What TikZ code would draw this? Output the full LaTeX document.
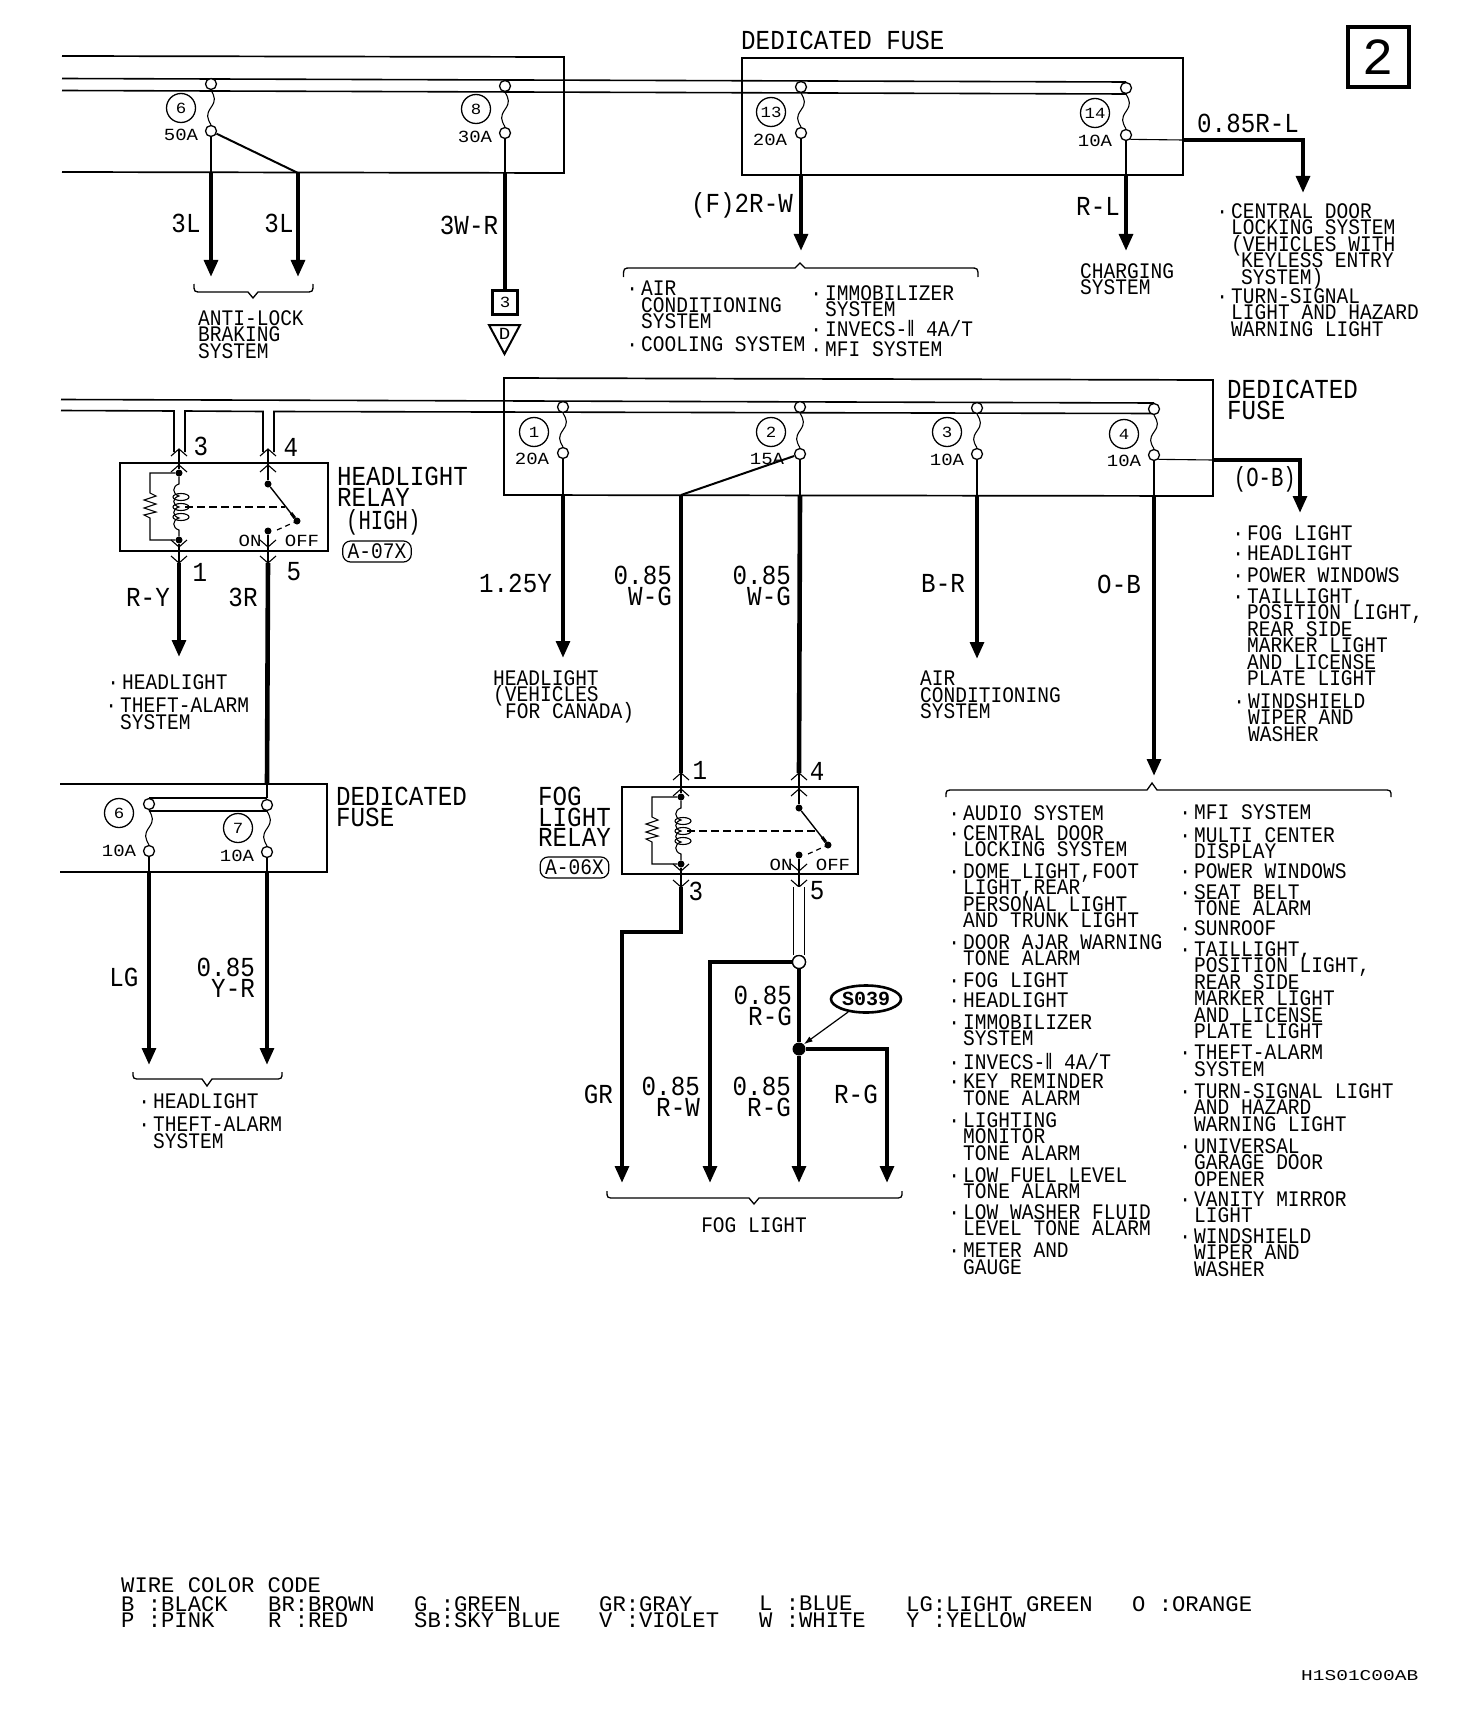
\documentclass[tikz,border=0pt]{standalone}
\usepackage{fontspec}
\usetikzlibrary{arrows.meta,calc,shapes.geometric}
\newfontfamily\monoS[FakeStretch=0.88]{Liberation Mono}
\newfontfamily\monoT[FakeStretch=0.75]{Liberation Mono}
\newfontfamily\monoA[FakeStretch=1.12]{Liberation Mono}
\newfontfamily\monoW[FakeStretch=1.3]{Liberation Mono}
\newfontfamily\monoL{Liberation Mono}
\newfontfamily\dvf[FakeStretch=0.66]{DejaVu Sans}
\lineskiplimit=-100pt
\lineskip=0pt
\newcommand\smf{\monoS\fontsize{22.2}{16.5}\selectfont\lineskiplimit=-100pt\lineskip=0pt }
\newcommand\bigf{\monoS\fontsize{27.5}{20.5}\selectfont\lineskiplimit=-100pt\lineskip=0pt }
\newcommand\narf{\monoT\fontsize{27.5}{20.5}\selectfont}
\newcommand\ampf{\monoA\fontsize{17}{17}\selectfont}
\newcommand\numf{\monoA\fontsize{15.5}{16}\selectfont}
\newcommand\legf{\monoL\fontsize{22.2}{16.6}\selectfont\lineskiplimit=-100pt\lineskip=0pt }
\newcommand\bu{\leavevmode\llap{·\hspace{3pt}}}
\newcommand\RII{{\dvf Ⅱ}}
\tikzset{
  thinw/.style={line width=1.1pt},
  railw/.style={line width=1.6pt},
  boxl/.style={line width=1.7pt},
  medw/.style={line width=2pt},
  wire/.style={line width=4.6pt},
  wirea/.style={line width=4.6pt,-{Triangle[length=17pt,width=13.5pt]}},
  term/.style={circle,draw,fill=white,line width=1.3pt,minimum size=11pt,inner sep=0pt},
  numc/.style={circle,draw,line width=1.3pt,minimum size=29pt,inner sep=0pt,font=\numf},
  dotn/.style={circle,fill=black,minimum size=7pt,inner sep=0pt},
  amp/.style={inner sep=0pt,font=\ampf},
  lst/.style={anchor=north west,inner sep=0pt,align=left,font=\smf},
  lstc/.style={inner sep=0pt,font=\smf},
  bigl/.style={anchor=north west,inner sep=0pt,align=left,font=\bigf},
  bigr/.style={anchor=north east,inner sep=0pt,align=right,font=\bigf},
  bigc/.style={inner sep=0pt,font=\bigf},
  leg/.style={anchor=north west,inner sep=0pt,align=left,font=\legf},
  tagbox/.style={draw,line width=1.2pt,rounded corners=8pt,inner xsep=5pt,inner ysep=3pt,font=\smf}
}
\newcommand\fuse[4]{%
  \node[term] (#1t) at (#2,#3) {};
  \node[term] (#1b) at (#2,#4) {};
  \draw[thinw] (#1t.south) .. controls +(4,7) and +(5,-7) .. ($(#1t)!.5!(#1b)$) .. controls +(-5,7) and +(-4,-7) .. (#1b.north);
}
\newcommand\fnum[7]{%
  \node[numc] (#1n) at (#2,#3) {#4};
  \node[amp] (#1a) at (#5,#6) {#7};
}
\newcommand\brc[6]{%
  \draw[line width=1.3pt] (#1,#3) .. controls (#1,#4) .. ($(#1,#4)+(8,0)$) -- ($(#5,#4)+(-5,0)$) -- (#5,#6) -- ($(#5,#4)+(5,0)$) -- ($(#2,#4)+(-8,0)$) .. controls (#2,#4) .. (#2,#3);
}
\newcommand\chev[3]{% name-less: apex (#1,#2), arm dy #3
  \draw[thinw] ($(#1,#2)+(-8,#3)$) -- (#1,#2) -- ($(#1,#2)+(8,#3)$);
}
\newcommand\relayins[4]{% id, x, top, dx
  \begin{scope}[shift={(#2,#3)}]
    \coordinate (#1pa) at (0,-14);
    \coordinate (#1pb) at (#4,-14);
    \coordinate (#1pc) at (0,100);
    \coordinate (#1pd) at (#4,100);
    \node[dotn] (#1td) at (0,10) {};
    \node[dotn] (#1bd) at (0,77) {};
    \node[dotn] (#1cm) at (#4,21) {};
    \node[dotn] (#1ae) at ($(#4,58)+(29,0)$) {};
    \node[dotn] (#1on) at (#4,68) {};
    \chev{0}{-14}{7}\chev{0}{2}{7}\chev{#4}{-14}{7}\chev{#4}{2}{7}
    \chev{0}{84}{-7}\chev{0}{100}{-7}\chev{#4}{84}{-7}\chev{#4}{100}{-7}
    \draw[thinw] (#1pa) -- (#1td);
    \draw[thinw] (#1bd) -- (#1pc);
    \draw[thinw] (#1pb) -- (#1cm);
    \draw[thinw] (#1on) -- (#1pd);
    \draw[thinw] (#1td) -- (-29,10) -- (-29,30) -- (-23,33) -- (-35,37) -- (-23,41) -- (-35,45) -- (-23,49) -- (-35,52) -- (-29,55) -- (-29,77) -- (#1bd);
    \draw[thinw] (#1td) -- (0,21) .. controls (-7,23) and (-7,31) .. (0,33) .. controls (-7,35) and (-7,42) .. (0,44) .. controls (-7,46) and (-7,53) .. (0,55) .. controls (-7,57) and (-7,65) .. (0,67) -- (#1bd);
    \draw[thinw] (2,34) ellipse [x radius=8pt,y radius=3.5pt];
    \draw[thinw] (2,44) ellipse [x radius=8pt,y radius=3.5pt];
    \draw[thinw] (2,54) ellipse [x radius=8pt,y radius=3.5pt];
    \draw[line width=1.4pt,dash pattern=on 8pt off 4pt] (6,44) -- ($(#4,44)+(17,0)$);
    \draw[line width=1.4pt] (#1cm) -- (#1ae);
    \draw[line width=3pt] ($(#4,50)+(23,0)$) -- (#1ae);
    \draw[line width=1.2pt,dash pattern=on 5pt off 4pt] ($(#4,67)+(9,0)$) -- (#1ae);
    \node[amp] (#1ont) at ($(#4,78)+(-18,0)$) {ON};
    \node[amp] (#1of) at ($(#4,78)+(34,0)$) {OFF};
  \end{scope}
}
\begin{document}
\begin{tikzpicture}[x=1pt,y=-1pt]
\useasboundingbox (0,0) rectangle (1472,1720);
\fill[white] (0,0) rectangle (1472,1720);

% ---------- top rails and fuse boxes
\coordinate (ra1) at (62,78.5); \coordinate (ra2) at (1126,82);
\coordinate (rb1) at (62,90.5); \coordinate (rb2) at (1126,94);
\draw[railw] (ra1) -- (ra2);
\draw[railw] (rb1) -- (rb2);
\draw[boxl] (62,56) -- (564,57) -- (564,173) -- (62,172);
\draw[boxl] (742,58) rectangle (1183,175);
\fuse{t6}{211}{84}{131}
\fuse{t8}{505}{86}{133}
\fuse{t13}{801}{87}{133}
\fuse{t14}{1126}{88}{135}
\fnum{t6}{181}{108}{6}{181}{135}{50A}
\fnum{t8}{476}{109}{8}{475}{137}{30A}
\fnum{t13}{771}{112}{13}{770}{140}{20A}
\fnum{t14}{1095}{113}{14}{1095}{141}{10A}
\node[bigl] (tdf) at (741,31) {DEDICATED FUSE};

% outputs of the top fuses
\coordinate (t6e) at (211,173); \coordinate (t6x) at (298,173);
\coordinate (t6y) at (211,277); \coordinate (t6z) at (298,277);
\draw[thinw] (t6b) -- (t6e);
\draw[medw] (t6b) -- (t6x);
\draw[wirea] (t6e) -- (t6y);
\draw[wirea] (t6x) -- (t6z);
\coordinate (t8e) at (505,173);
\node[draw,line width=3pt,minimum width=25pt,minimum height=24pt,inner sep=0pt,font=\numf] (c3) at (505,302) {3};
\draw[thinw] (t8b) -- (t8e);
\draw[wire] (t8e) -- (c3);
\draw[line width=2pt] (489,325) -- (520,325) -- (504.5,354) -- cycle;
\node[amp] (cd) at (504.5,334) {D};
\coordinate (t13e) at (801,175); \coordinate (t13y) at (801,251);
\draw[thinw] (t13b) -- (t13e);
\draw[wirea] (t13e) -- (t13y);
\coordinate (t14e) at (1126,175); \coordinate (t14y) at (1126,251);
\draw[thinw] (t14b) -- (t14e);
\draw[wirea] (t14e) -- (t14y);
\coordinate (t14r) at (1183,140); \coordinate (t14c) at (1303,140); \coordinate (t14z) at (1303,193);
\draw[thinw] (t14b.south east) -- (t14r);
\draw[wirea] (t14r) -- (t14c) -- (t14z);

% labels, top row
\node[bigc] (w1) at (186,223) {3L};
\node[bigc] (w2) at (279,223) {3L};
\node[bigc] (w3) at (469,225) {3W-R};
\node[bigc,anchor=east] (w4) at (793,205) {(F)2R-W};
\node[bigc] (w5) at (1098,206) {R-L};
\node[bigc,anchor=west] (w6) at (1197,123) {0.85R-L};
\brc{194}{313}{284}{292}{253}{298}
\node[lst] (a1) at (198,310) {ANTI-LOCK\\BRAKING\\SYSTEM};
\brc{623.5}{978}{277}{268}{800}{263}
\node[lst] (a2) at (641,281) {\bu AIR\\CONDITIONING\\SYSTEM};
\node[lst] (a3) at (641,336) {\bu COOLING SYSTEM};
\node[lst] (a4) at (825,285) {\bu IMMOBILIZER\\SYSTEM};
\node[lst] (a5) at (825,320) {\bu INVECS-\RII{} 4A/T};
\node[lst] (a6) at (825,341) {\bu MFI SYSTEM};
\node[lst] (a7) at (1080,263) {CHARGING\\SYSTEM};
\node[lst] (a8) at (1231,203) {\bu CENTRAL DOOR\\LOCKING SYSTEM\\(VEHICLES WITH\\\hspace*{10pt}KEYLESS ENTRY\\\hspace*{10pt}SYSTEM)};
\node[lst] (a9) at (1231,288) {\bu TURN-SIGNAL\\LIGHT AND HAZARD\\WARNING LIGHT};

% page number box
\node[draw,line width=3.2pt,minimum width=61pt,minimum height=60pt,inner sep=0pt,font=\monoL\fontsize{52}{52}\selectfont] (pg) at (1378.5,57) {2};

% ---------- middle rails
\coordinate (ma1) at (61,399.5); \coordinate (ma2) at (1154,403);
\draw[railw] (ma1) -- (ma2);
\coordinate (mb1) at (61,410.5); \coordinate (mb2) at (1154,413.5);
\draw[boxl] (504,378) -- (1213,380) -- (1213,496) -- (504,495) -- cycle;
\relayins{h}{179}{463}{89}
\draw[boxl] (120,463) rectangle (328,551);
\draw[railw] (mb1) -- (174,411) -- (174,452);
\draw[railw] (185,452) -- (185,411) -- (263,411.5) -- (263,452);
\draw[railw] (274,452) -- (274,411.5) -- (mb2);
\fuse{m1}{563}{407}{453}
\fuse{m2}{800}{407}{454}
\fuse{m3}{977}{408}{454}
\fuse{m4}{1154}{409}{455}
\fnum{m1}{534}{432}{1}{532}{459}{20A}
\fnum{m2}{771}{432}{2}{767}{459}{15A}
\fnum{m3}{947}{432}{3}{947}{460}{10A}
\fnum{m4}{1124}{434}{4}{1124}{461}{10A}
\node[bigl] (mdf) at (1227,380) {DEDICATED\\FUSE};

% headlight relay outputs
\node[bigc] (h3) at (201,446) {3};
\node[bigc] (h4) at (291,447) {4};
\node[bigc] (h1) at (200,572) {1};
\node[bigc] (h5) at (294,572) {5};
\node[bigl] (hr) at (337,467) {HEADLIGHT\\RELAY};
\node[anchor=north west,inner sep=0pt,font=\narf] (hh) at (346,509) {(HIGH)};
\node[tagbox] (ht) at (377,551.5) {A-07X};
\coordinate (hya) at (179,657);
\draw[wirea] (hpc) -- (hya);
\node[bigc] (w7) at (148,597) {R-Y};
\node[bigc] (w8) at (243,597) {3R};
\node[lst] (b1) at (122,674) {\bu HEADLIGHT};
\node[lst] (b2) at (120,698) {\bu THEFT-ALARM\\SYSTEM};

% lower-left fuse box
\draw[boxl] (60,784) -- (327,784) -- (327,872) -- (60,872);
\coordinate (l7i) at (267,798);
\draw[wire] (hpd) -- (267,784) coordinate (l7top);
\draw[thinw] (l7top) -- (l7i);
\draw[railw] (l7i) -- (149,798);
\draw[railw] (149,811) -- (267,811);
\fuse{l6}{149}{804}{851}
\fuse{l7}{267}{805}{852}
\fnum{l6}{119}{813}{6}{119}{851}{10A}
\fnum{l7}{238}{828}{7}{237}{856}{10A}
\node[bigl] (ldf) at (336,787) {DEDICATED\\FUSE};
\coordinate (l6e) at (149,872); \coordinate (l6y) at (149,1065);
\coordinate (l7e) at (267,872); \coordinate (l7y) at (267,1065);
\draw[thinw] (l6b) -- (l6e);
\draw[thinw] (l7b) -- (l7e);
\draw[wirea] (l6e) -- (l6y);
\draw[wirea] (l7e) -- (l7y);
\node[bigc] (w9) at (124,977) {LG};
\node[bigr] (w10) at (255,958) {0.85\\Y-R};
\brc{133}{282}{1072}{1079}{207}{1086}
\node[lst] (b3) at (153,1093) {\bu HEADLIGHT};
\node[lst] (b4) at (153,1117) {\bu THEFT-ALARM\\SYSTEM};

% middle fuse outputs
\coordinate (m1e) at (563,495); \coordinate (m1y) at (563,658);
\draw[thinw] (m1b) -- (m1e);
\draw[wirea] (m1e) -- (m1y);
\coordinate (m2e) at (800,495); \coordinate (m2x) at (681,495);
\draw[medw] (m2b) -- (m2e);
\draw[medw] (m2b) -- (m2x);
\coordinate (m3e) at (977,496); \coordinate (m3y) at (977,659);
\draw[thinw] (m3b) -- (m3e);
\draw[wirea] (m3e) -- (m3y);
\coordinate (m4e) at (1154,496); \coordinate (m4y) at (1154,776);
\draw[thinw] (m4b) -- (m4e);
\draw[wirea] (m4e) -- (m4y);
\coordinate (m4r) at (1213,460); \coordinate (m4c) at (1300,460); \coordinate (m4z) at (1300,513);
\draw[thinw] (m4b.south east) -- (m4r);
\draw[wirea] (m4r) -- (m4c) -- (m4z);
\node[bigc,anchor=east] (w11) at (552,583) {1.25Y};
\node[bigr] (w12) at (672,566) {0.85\\W-G};
\node[bigr] (w13) at (791,566) {0.85\\W-G};
\node[bigc] (w14) at (943,583) {B-R};
\node[bigc] (w15) at (1119,584) {O-B};
\node[anchor=east,inner sep=0pt,font=\narf] (w16) at (1296,479) {(O-B)};
\node[lst] (c1) at (493,670) {HEADLIGHT\\(VEHICLES\\\hspace*{12pt}FOR CANADA)};
\node[lst] (c2) at (920,671) {AIR\\CONDITIONING\\SYSTEM};
\node[lst] (d1) at (1247,525) {\bu FOG LIGHT};
\node[lst] (d2) at (1247,545) {\bu HEADLIGHT};
\node[lst] (d3) at (1247,567) {\bu POWER WINDOWS};
\node[lst] (d4) at (1247,588) {\bu TAILLIGHT,\\POSITION LIGHT,\\REAR SIDE\\MARKER LIGHT\\AND LICENSE\\PLATE LIGHT};
\node[lst] (d5) at (1248,693) {\bu WINDSHIELD\\WIPER AND\\WASHER};

% fog light relay
\relayins{f}{681}{787}{118}
\draw[boxl] (622,787) rectangle (858,874);
\draw[wire] (m2x) -- (fpa);
\draw[wire] (m2e) -- (fpb);
\node[bigc] (f1) at (700,770) {1};
\node[bigc] (f4) at (817,771) {4};
\node[bigc] (f3) at (696,891) {3};
\node[bigc] (f5) at (817,891) {5};
\node[bigl] (fr) at (538,787) {FOG\\LIGHT\\RELAY};
\node[tagbox] (ft) at (574.5,867.5) {A-06X};
\coordinate (fb1) at (681,932); \coordinate (fb2) at (622,932); \coordinate (fy1) at (622,1183);
\draw[wirea] (fpc) -- (fb1) -- (fb2) -- (fy1);
\node[term,minimum size=13pt] (fj) at (799,962) {};
\draw[line width=1.2pt,double,double distance=10.5pt] (fpd) -- (fj);
\node[term,minimum size=13pt] (fj2) at (799,962) {};
\coordinate (fl) at (710,962); \coordinate (fy2) at (710,1183);
\draw[wirea] (fj) -- (fl) -- (fy2);
\node[circle,fill=black,minimum size=13pt,inner sep=0pt] (s39) at (799,1049) {};
\coordinate (fy3) at (799,1183);
\draw[wire] (fj) -- (s39);
\draw[wirea] (s39) -- (fy3);
\coordinate (fr1) at (887,1049); \coordinate (fy4) at (887,1183);
\draw[wirea] (s39) -- (fr1) -- (fy4);
\node[draw,ellipse,line width=2.6pt,minimum width=70pt,minimum height=27pt,inner sep=0pt,font=\monoL\bfseries\fontsize{20}{20}\selectfont] (sn) at (866,999) {S039};
\draw[line width=1.2pt,-{Latex[length=9pt,width=6pt]}] (sn) -- (s39.north east);
\node[bigr] (w17) at (792,986) {0.85\\R-G};
\node[bigr] (w18) at (791,1077) {0.85\\R-G};
\node[bigr] (w19) at (700,1077) {0.85\\R-W};
\node[bigc,anchor=east] (w20) at (613,1094) {GR};
\node[bigc] (w21) at (856,1094) {R-G};
\brc{607}{902}{1191}{1198}{754}{1204}
\node[lstc] (fl2) at (754,1225) {FOG LIGHT};

% long list
\brc{946}{1391}{797}{790}{1152}{783}
\node[lst] (e1) at (963,805) {\bu AUDIO SYSTEM};
\node[lst] (e2) at (963,825) {\bu CENTRAL DOOR\\LOCKING SYSTEM};
\node[lst] (e3) at (963,863) {\bu DOME LIGHT,FOOT\\LIGHT,REAR\\PERSONAL LIGHT\\AND TRUNK LIGHT};
\node[lst] (e4) at (963,934) {\bu DOOR AJAR WARNING\\TONE ALARM};
\node[lst] (e5) at (963,972) {\bu FOG LIGHT};
\node[lst] (e6) at (963,992) {\bu HEADLIGHT};
\node[lst] (e7) at (963,1014) {\bu IMMOBILIZER\\SYSTEM};
\node[lst] (e8) at (963,1053) {\bu INVECS-\RII{} 4A/T};
\node[lst] (e9) at (963,1074) {\bu KEY REMINDER\\TONE ALARM};
\node[lst] (e10) at (963,1112) {\bu LIGHTING\\MONITOR\\TONE ALARM};
\node[lst] (e11) at (963,1167) {\bu LOW FUEL LEVEL\\TONE ALARM};
\node[lst] (e12) at (963,1204) {\bu LOW WASHER FLUID\\LEVEL TONE ALARM};
\node[lst] (e13) at (963,1243) {\bu METER AND\\GAUGE};
\node[lst] (g1) at (1194,804) {\bu MFI SYSTEM};
\node[lst] (g2) at (1194,827) {\bu MULTI CENTER\\DISPLAY};
\node[lst] (g3) at (1194,863) {\bu POWER WINDOWS};
\node[lst] (g4) at (1194,884) {\bu SEAT BELT\\TONE ALARM};
\node[lst] (g5) at (1194,920) {\bu SUNROOF};
\node[lst] (g6) at (1194,941) {\bu TAILLIGHT,\\POSITION LIGHT,\\REAR SIDE\\MARKER LIGHT\\AND LICENSE\\PLATE LIGHT};
\node[lst] (g7) at (1194,1045) {\bu THEFT-ALARM\\SYSTEM};
\node[lst] (g8) at (1194,1083) {\bu TURN-SIGNAL LIGHT\\AND HAZARD\\WARNING LIGHT};
\node[lst] (g9) at (1194,1138) {\bu UNIVERSAL\\GARAGE DOOR\\OPENER};
\node[lst] (g10) at (1194,1191) {\bu VANITY MIRROR\\LIGHT};
\node[lst] (g11) at (1194,1228) {\bu WINDSHIELD\\WIPER AND\\WASHER};

% legend
\node[leg] (k0) at (121,1577) {WIRE COLOR CODE};
\node[leg] (k1) at (121,1596) {B :BLACK\\P :PINK};
\node[leg] (k2) at (268,1596) {BR:BROWN\\R :RED};
\node[leg] (k3) at (414,1596) {G :GREEN\\SB:SKY BLUE};
\node[leg] (k4) at (599,1596) {GR:GRAY\\V :VIOLET};
\node[leg] (k5) at (759,1596) {L :BLUE\\W :WHITE};
\node[leg] (k6) at (906,1596) {LG:LIGHT GREEN\\Y :YELLOW};
\node[leg] (k7) at (1132,1596) {O :ORANGE};
\node[anchor=north west,inner sep=0pt,font=\monoW\fontsize{15}{15}\selectfont] (code) at (1301,1670) {H1S01C00AB};
\end{tikzpicture}
\end{document}
